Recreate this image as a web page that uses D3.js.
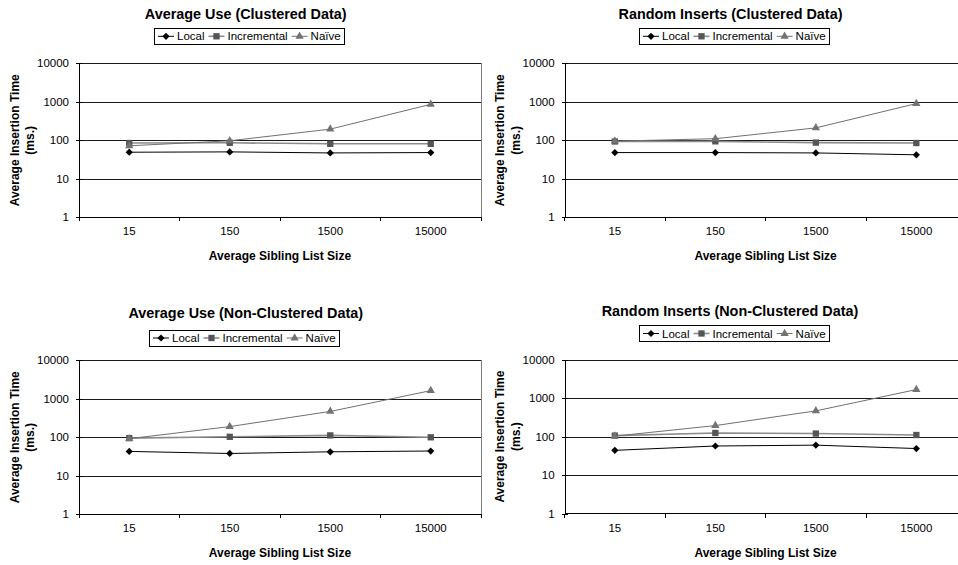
<!DOCTYPE html>
<html>
<head>
<meta charset="utf-8">
<script src="https://cdn.jsdelivr.net/npm/d3@7"></script>
<style>
  html, body { margin: 0; padding: 0; background: #fff; overflow: hidden; }
  svg { display: block; font-family: "Liberation Sans", Arial, sans-serif; }
</style>
</head>
<body>
<svg id="chart" width="958" height="565"></svg>
<script>
// ---------- data ----------
const categories = ["15", "150", "1500", "15000"];
const yTickValues = [1, 10, 100, 1000, 10000];
const seriesNames = ["Local", "Incremental", "Naïve"];

const avgUseClusteredLocal = [49, 50, 47, 48];
const avgUseClusteredIncremental = [85, 86, 81, 81];
const avgUseClusteredNaive = [72, 97, 195, 860];

const randInsClusteredLocal = [48, 48, 47, 42];
const randInsClusteredIncremental = [93, 94, 87, 85];
const randInsClusteredNaive = [95, 110, 210, 900];

const avgUseNonClusteredLocal = [43, 38, 42, 44];
const avgUseNonClusteredIncremental = [95, 103, 112, 100];
const avgUseNonClusteredNaive = [92, 190, 470, 1630];

const randInsNonClusteredLocal = [44, 57, 60, 49];
const randInsNonClusteredIncremental = [106, 124, 120, 110];
const randInsNonClusteredNaive = [103, 193, 465, 1660];

const panelTitles = [
  "Average Use (Clustered Data)",
  "Random Inserts (Clustered Data)",
  "Average Use (Non-Clustered Data)",
  "Random Inserts (Non-Clustered Data)"
];
const xAxisTitle = "Average Sibling List Size";
const yAxisTitleLines = ["Average Insertion Time", "(ms.)"];

// ---------- styles / layout ----------
const seriesStyle = [
  { line: "#000000", width: 1,   marker: "diamond",  fill: "#000000", size: 26 },
  { line: "#8c8c8c", width: 1.6, marker: "square",   fill: "#555555", size: 40 },
  { line: "#707070", width: 1,   marker: "triangle", fill: "#737373", size: 30 }
];

const layouts = [
  { left: 79,    top: 63.3,  bottom: 217.3, titleX: 245.7, titleY: 19,    legendX: 154, legendY: 28.3 },
  { left: 564.6, top: 63.3,  bottom: 217.3, titleX: 730.5, titleY: 18.5,  legendX: 639, legendY: 28.3 },
  { left: 79,    top: 360.3, bottom: 514.3, titleX: 245.7, titleY: 317.5, legendX: 149, legendY: 330 },
  { left: 564.6, top: 359.5, bottom: 513.7, titleX: 730,   titleY: 316,   legendX: 639, legendY: 325.5 }
];
const plotWidth = 402;

const panelData = [
  [avgUseClusteredLocal, avgUseClusteredIncremental, avgUseClusteredNaive],
  [randInsClusteredLocal, randInsClusteredIncremental, randInsClusteredNaive],
  [avgUseNonClusteredLocal, avgUseNonClusteredIncremental, avgUseNonClusteredNaive],
  [randInsNonClusteredLocal, randInsNonClusteredIncremental, randInsNonClusteredNaive]
];

const svg = d3.select("#chart");

function markerPath(kind, size) {
  if (kind === "diamond") return d3.symbol().type(d3.symbolSquare).size(size)();
  if (kind === "square") return d3.symbol().type(d3.symbolSquare).size(size)();
  return d3.symbol().type(d3.symbolTriangle).size(size)();
}
function markerTransform(kind, x, y) {
  return kind === "diamond" ? `translate(${x},${y}) rotate(45)` : `translate(${x},${y})`;
}

panelData.forEach((series, i) => {
  const L = layouts[i];
  const g = svg.append("g");

  const x = d3.scaleBand().domain(categories).range([L.left, L.left + plotWidth]);
  const y = d3.scaleLog().domain([1, 10000]).range([L.bottom, L.top]);

  // gridlines
  g.append("g")
    .attr("transform", `translate(${L.left},0)`)
    .call(d3.axisLeft(y).tickValues(yTickValues.slice(1)).tickSize(-plotWidth).tickFormat(""))
    .call(s => s.select(".domain").remove())
    .call(s => s.selectAll(".tick line").attr("stroke", "#1a1a1a").attr("shape-rendering", "crispEdges"));

  // right border of plot area
  g.append("line")
    .attr("x1", L.left + plotWidth).attr("x2", L.left + plotWidth)
    .attr("y1", y(10000)).attr("y2", y(1))
    .attr("stroke", "#808080").attr("shape-rendering", "crispEdges");

  // y axis
  const ya = g.append("g")
    .attr("transform", `translate(${L.left},0)`)
    .call(d3.axisLeft(y).tickValues(yTickValues).tickFormat(d3.format("d")).tickSize(3).tickPadding(7));
  ya.select(".domain").attr("stroke", "#000").attr("shape-rendering", "crispEdges");
  ya.selectAll(".tick line").attr("x1", -3).attr("x2", 3).attr("stroke", "#000").attr("shape-rendering", "crispEdges");
  ya.selectAll(".tick text").attr("font-size", 11.5).attr("fill", "#000")
    .attr("font-family", "'Liberation Sans', Arial, sans-serif");

  // x axis
  const xa = g.append("g")
    .attr("transform", `translate(0,${L.bottom})`)
    .call(d3.axisBottom(x).tickSize(0).tickPadding(10));
  xa.select(".domain").attr("stroke", "#000").attr("shape-rendering", "crispEdges")
    .attr("d", `M${L.left},0H${L.left + plotWidth}`);
  xa.selectAll(".tick text").attr("font-size", 11.5).attr("fill", "#000")
    .attr("font-family", "'Liberation Sans', Arial, sans-serif");
  // boundary tick marks between categories
  const boundaries = categories.map(c => x(c)).concat([x(categories[categories.length - 1]) + x.bandwidth()]);
  xa.selectAll("line.bt").data(boundaries).enter().append("line")
    .attr("class", "bt")
    .attr("x1", d => d).attr("x2", d => d).attr("y1", 0).attr("y2", 4)
    .attr("stroke", "#000").attr("shape-rendering", "crispEdges");

  // axis titles
  g.append("text")
    .attr("x", L.left + plotWidth / 2).attr("y", L.bottom + 43)
    .attr("text-anchor", "middle").attr("font-size", 12).attr("font-weight", "bold")
    .text(xAxisTitle);
  const yMid = (L.top + L.bottom) / 2;
  yAxisTitleLines.forEach((t, k) => {
    g.append("text")
      .attr("transform", `translate(${L.left - 63.5 + k * 15.5},${yMid}) rotate(-90)`)
      .attr("text-anchor", "middle").attr("dominant-baseline", "middle")
      .attr("font-size", 12).attr("font-weight", "bold")
      .text(t);
  });

  // title
  g.append("text")
    .attr("x", L.titleX).attr("y", L.titleY)
    .attr("text-anchor", "middle").attr("font-size", 14.4).attr("font-weight", "bold")
    .text(panelTitles[i]);

  // series lines and markers
  series.forEach((vals, s) => {
    const st = seriesStyle[s];
    const line = d3.line()
      .x((d, k) => x(categories[k]) + x.bandwidth() / 2)
      .y(d => y(d));
    g.append("path").datum(vals)
      .attr("d", line).attr("fill", "none")
      .attr("stroke", st.line).attr("stroke-width", st.width);
  });
  series.forEach((vals, s) => {
    const st = seriesStyle[s];
    g.selectAll(null).data(vals).enter().append("path")
      .attr("d", markerPath(st.marker, st.size))
      .attr("transform", (d, k) => markerTransform(st.marker, x(categories[k]) + x.bandwidth() / 2, y(d)))
      .attr("fill", st.fill);
  });

  // legend
  const lg = g.append("g");
  const box = lg.append("rect").attr("fill", "#fff").attr("stroke", "#000")
    .attr("shape-rendering", "crispEdges");
  let cx = L.legendX + 4;
  const ly = L.legendY + 8;
  seriesNames.forEach((name, s) => {
    const st = seriesStyle[s];
    lg.append("line").attr("x1", cx).attr("x2", cx + 16).attr("y1", ly).attr("y2", ly)
      .attr("stroke", st.line).attr("stroke-width", st.width);
    lg.append("path").attr("d", markerPath(st.marker, st.size))
      .attr("transform", markerTransform(st.marker, cx + 8, ly)).attr("fill", st.fill);
    const t = lg.append("text").attr("x", cx + 19).attr("y", ly)
      .attr("dominant-baseline", "central").attr("font-size", 11.5).text(name);
    cx = cx + 19 + t.node().getComputedTextLength() + 4;
  });
  box.attr("x", L.legendX).attr("y", L.legendY)
    .attr("width", cx - L.legendX).attr("height", 16);
});
</script>
</body>
</html>
